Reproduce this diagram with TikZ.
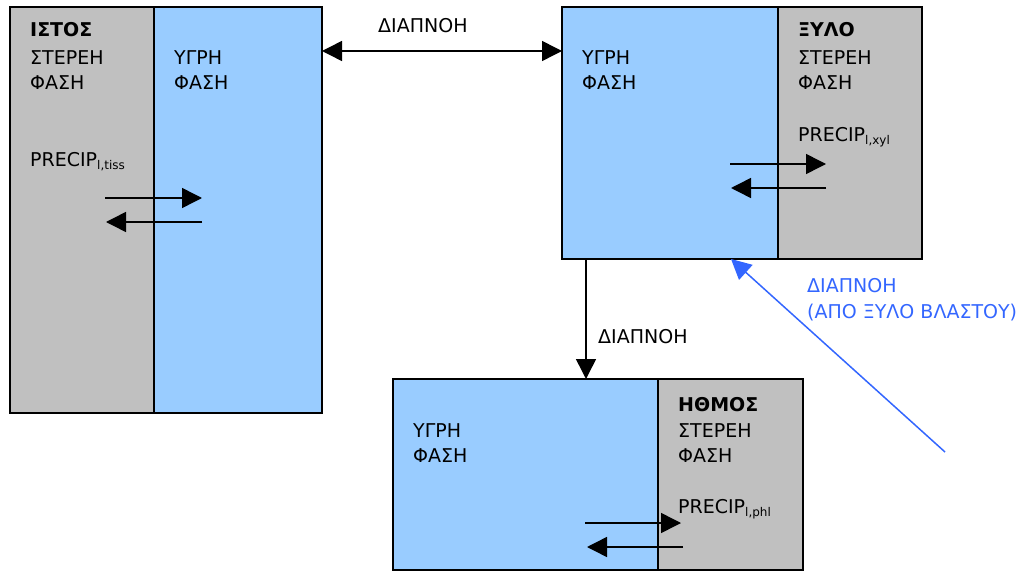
\documentclass[tikz,border=0pt]{standalone}
\usepackage{fontspec}
\setmainfont{DejaVu Sans}
\usepackage{tikz}
\usetikzlibrary{arrows.meta,positioning,calc}
\usepackage{xcolor}
\definecolor{solidgray}{HTML}{C0C0C0}
\definecolor{liquidblue}{HTML}{99CCFF}
\definecolor{flowblue}{HTML}{3366FF}
\newcommand{\precip}[1]{PRECIP\raisebox{-3pt}{\fontsize{12}{12}\selectfont #1}}

\begin{document}
\begin{tikzpicture}[x=1pt,y=1pt,
    phasebox/.style={draw=black,line width=1.6pt,inner sep=0pt,outer sep=0pt},
    solidbox/.style={phasebox,fill=solidgray},
    liquidbox/.style={phasebox,fill=liquidblue},
    txt/.style={anchor=base west,inner sep=0pt,align=left,font=\fontsize{19}{25}\selectfont},
    flow/.style={-{Triangle[length=20pt,width=20pt]},line width=1.5pt},
    flowboth/.style={{Triangle[length=20pt,width=20pt]}-{Triangle[length=20pt,width=20pt]},line width=1.5pt}]
  \useasboundingbox (0,0) rectangle (1025,-572);

  \node[solidbox,anchor=north west,minimum width=144pt,minimum height=406pt] (tissS) at (10,-7) {};
  \node[liquidbox,minimum width=168pt,minimum height=406pt,right=0pt of tissS] (tissL) {};
  \node[liquidbox,anchor=north west,minimum width=216pt,minimum height=252pt] (xylL) at (562,-7) {};
  \node[solidbox,minimum width=144pt,minimum height=252pt,right=0pt of xylL] (xylS) {};
  \node[liquidbox,anchor=north west,minimum width=265pt,minimum height=191pt] (phlL) at (393,-379) {};
  \node[solidbox,minimum width=145pt,minimum height=191pt,right=0pt of phlL] (phlS) {};

  % base anchor sits on the last line
  \node[txt] (tissT) at ($(tissS.north west)+(20,-83)$) {\textbf{ΙΣΤΟΣ}\\[3pt]ΣΤΕΡΕΗ\\ΦΑΣΗ};
  \node[txt] (tissW) at ($(tissL.north west)+(20,-83)$) {ΥΓΡΗ\\ΦΑΣΗ};
  \node[txt] (tissP) at ($(tissS.north west)+(20,-160)$) {\precip{l,tiss}};
  \node[txt] (xylW) at ($(xylL.north west)+(20,-83)$) {ΥΓΡΗ\\ΦΑΣΗ};
  \node[txt] (xylT) at ($(xylS.north west)+(20,-83)$) {\textbf{ΞΥΛΟ}\\[3pt]ΣΤΕΡΕΗ\\ΦΑΣΗ};
  \node[txt] (xylP) at ($(xylS.north west)+(20,-135)$) {\precip{l,xyl}};
  \node[txt] (phlW) at ($(phlL.north west)+(20,-83)$) {ΥΓΡΗ\\ΦΑΣΗ};
  \node[txt] (phlT) at ($(phlS.north west)+(20,-83)$) {\textbf{ΗΘΜΟΣ}\\[1pt]ΣΤΕΡΕΗ\\ΦΑΣΗ};
  \node[txt] (phlP) at ($(phlS.north west)+(20,-134)$) {\precip{l,phl}};

  \coordinate (tissA) at ($(tissS.north east)+(-49,-191)$);
  \coordinate (tissB) at ($(tissS.north east)+(48,-191)$);
  \coordinate (tissC) at ($(tissS.north east)+(48,-215)$);
  \coordinate (tissD) at ($(tissS.north east)+(-48,-215)$);
  \draw[flow] (tissA) -- (tissB);
  \draw[flow] (tissC) -- (tissD);

  \coordinate (xylA) at ($(xylS.north west)+(-48,-157)$);
  \coordinate (xylB) at ($(xylS.north west)+(48,-157)$);
  \coordinate (xylC) at ($(xylS.north west)+(48,-181)$);
  \coordinate (xylD) at ($(xylS.north west)+(-47,-181)$);
  \draw[flow] (xylA) -- (xylB);
  \draw[flow] (xylC) -- (xylD);

  \coordinate (phlA) at ($(phlS.north west)+(-73,-144)$);
  \coordinate (phlB) at ($(phlS.north west)+(23,-144)$);
  \coordinate (phlC) at ($(phlS.north west)+(25,-168)$);
  \coordinate (phlD) at ($(phlS.north west)+(-71,-168)$);
  \draw[flow] (phlA) -- (phlB);
  \draw[flow] (phlC) -- (phlD);

  \coordinate (topL) at ($(tissL.north east)+(0,-44)$);
  \coordinate (topR) at ($(xylL.north west)+(0,-44)$);
  \draw[flowboth] (topL) -- (topR);
  \node[txt] (topLbl) at (378,-33) {ΔΙΑΠΝΟΗ};

  \coordinate (downTop) at ($(xylL.south west)+(24,0)$);
  \draw[flow] (downTop) -- (downTop |- phlL.north);
  \node[txt] (downLbl) at (598,-343) {ΔΙΑΠΝΟΗ};

  \coordinate (shootTail) at (945,-452);
  \coordinate (shootTip) at ($(xylL.south east)+(-47,0)$);
  \draw[flow,draw=flowblue] (shootTail) -- (shootTip);
  \node[txt,text=flowblue] (shootLbl) at (807,-318) {ΔΙΑΠΝΟΗ\\[1pt](ΑΠΟ ΞΥΛΟ ΒΛΑΣΤΟΥ)};
\end{tikzpicture}
\end{document}
